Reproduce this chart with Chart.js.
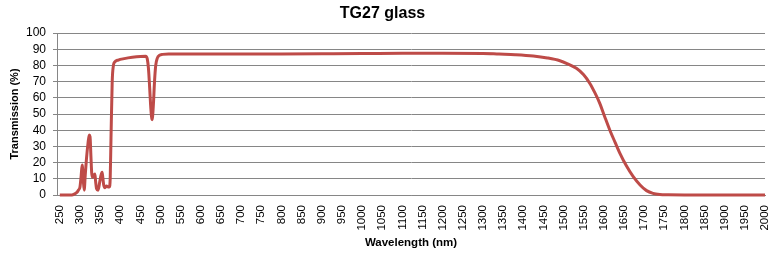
<!DOCTYPE html>
<html>
<head>
<meta charset="utf-8">
<script src="https://cdn.jsdelivr.net/npm/chart.js@4"></script>
<style>
  html, body { margin: 0; padding: 0; background: #fff; }
  #wrap { width: 775px; height: 256px; }
</style>
</head>
<body>
<div id="wrap"><canvas id="c" width="775" height="256"></canvas></div>
<script>
const wavelengths = [250, 280, 287, 292, 296, 300, 303, 305.5, 308, 310.5, 313, 316, 320, 323, 325, 327, 329, 331, 334, 337, 339, 341, 345, 349, 352, 355, 357, 359, 362, 366, 370, 373, 375, 377, 380, 383, 386, 395, 410, 430, 450, 463, 467, 470, 473, 476, 479, 482, 485, 488, 492, 497, 505, 520, 600, 700, 800, 900, 1000, 1100, 1200, 1300, 1340, 1380, 1425, 1460, 1491, 1510, 1532, 1550, 1565, 1578, 1590, 1602, 1615, 1628, 1640, 1656, 1673, 1690, 1706, 1722, 1739, 1760, 1800, 2000];
const transmission = [0, 0, 0.7, 1.5, 3, 5, 12, 18.5, 10, 3, 12, 22, 32, 37, 36, 25, 14, 11, 12, 13, 8, 4, 3, 8, 12, 14, 10, 6, 4.5, 5.5, 5, 5, 10, 35, 70, 80, 82, 83.3, 84.2, 85, 85.5, 85.6, 84, 78, 66, 53, 46.5, 55, 70, 80, 84.5, 86.2, 86.8, 87, 87, 87, 87.1, 87.2, 87.3, 87.5, 87.5, 87.4, 87, 86.6, 85.8, 84.6, 82.9, 81, 78.2, 74.2, 69, 63, 56.6, 48.5, 40, 32.5, 25.7, 18, 11.3, 6.2, 2.7, 1, 0.3, 0.1, 0, 0];
const xTickLabels = [250, 300, 350, 400, 450, 500, 550, 600, 650, 700, 750, 800, 850, 900, 950, 1000, 1050, 1100, 1150, 1200, 1250, 1300, 1350, 1400, 1450, 1500, 1550, 1600, 1650, 1700, 1750, 1800, 1850, 1900, 1950, 2000];
const yTickLabels = [0, 10, 20, 30, 40, 50, 60, 70, 80, 90, 100];

const points = wavelengths.map((w, i) => ({ x: w, y: transmission[i] }));
const FONT = "'Liberation Sans', Arial, sans-serif";

new Chart(document.getElementById('c'), {
  type: 'line',
  data: {
    datasets: [{
      data: points,
      borderColor: '#BE4B48',
      borderWidth: 3,
      pointRadius: 0,
      cubicInterpolationMode: 'monotone',
      fill: false,
      clip: 4
    }]
  },
  options: {
    responsive: false,
    animation: false,
    devicePixelRatio: 1,
    layout: { padding: { left: 0, right: 10, top: 0, bottom: 0 } },
    plugins: {
      legend: { display: false },
      tooltip: { enabled: false },
      title: {
        display: true,
        text: 'TG27 glass',
        color: '#000',
        font: { family: FONT, size: 16, weight: 'bold', lineHeight: 1.2 },
        padding: { top: 4, bottom: 9.8 }
      }
    },
    scales: {
      x: {
        type: 'linear',
        min: 243,
        max: 2000,
        afterBuildTicks: s => { s.ticks = xTickLabels.map(v => ({ value: v })); },
        afterFit: s => { s.height = 61; s.paddingLeft = 0; s.paddingRight = 0; },
        grid: { display: false, drawTicks: false },
        border: { display: true, color: '#868686', width: 1 },
        ticks: {
          autoSkip: false,
          minRotation: 90,
          maxRotation: 90,
          padding: 10,
          color: '#000',
          font: { family: FONT, size: 11.5 },
          callback: v => String(v)
        },
        title: {
          display: true,
          text: 'Wavelength (nm)',
          color: '#000',
          font: { family: FONT, size: 11.5, weight: 'bold', lineHeight: 1.2 },
          padding: { top: 0, bottom: 6 }
        }
      },
      y: {
        min: 0,
        max: 100,
        afterBuildTicks: s => { s.ticks = yTickLabels.map(v => ({ value: v })); },
        afterFit: s => { s.width = 57; },
        grid: { color: '#868686', lineWidth: 1, drawTicks: true, tickLength: 4 },
        border: { display: true, color: '#868686', width: 1 },
        ticks: {
          autoSkip: false,
          padding: 7,
          color: '#000',
          font: { family: FONT, size: 12 },
          callback: v => String(v)
        },
        title: {
          display: true,
          text: 'Transmission (%)',
          color: '#000',
          font: { family: FONT, size: 11, weight: 'bold', lineHeight: 1.2 },
          padding: { top: 8, bottom: 0 }
        }
      }
    }
  }
});
</script>
</body>
</html>
